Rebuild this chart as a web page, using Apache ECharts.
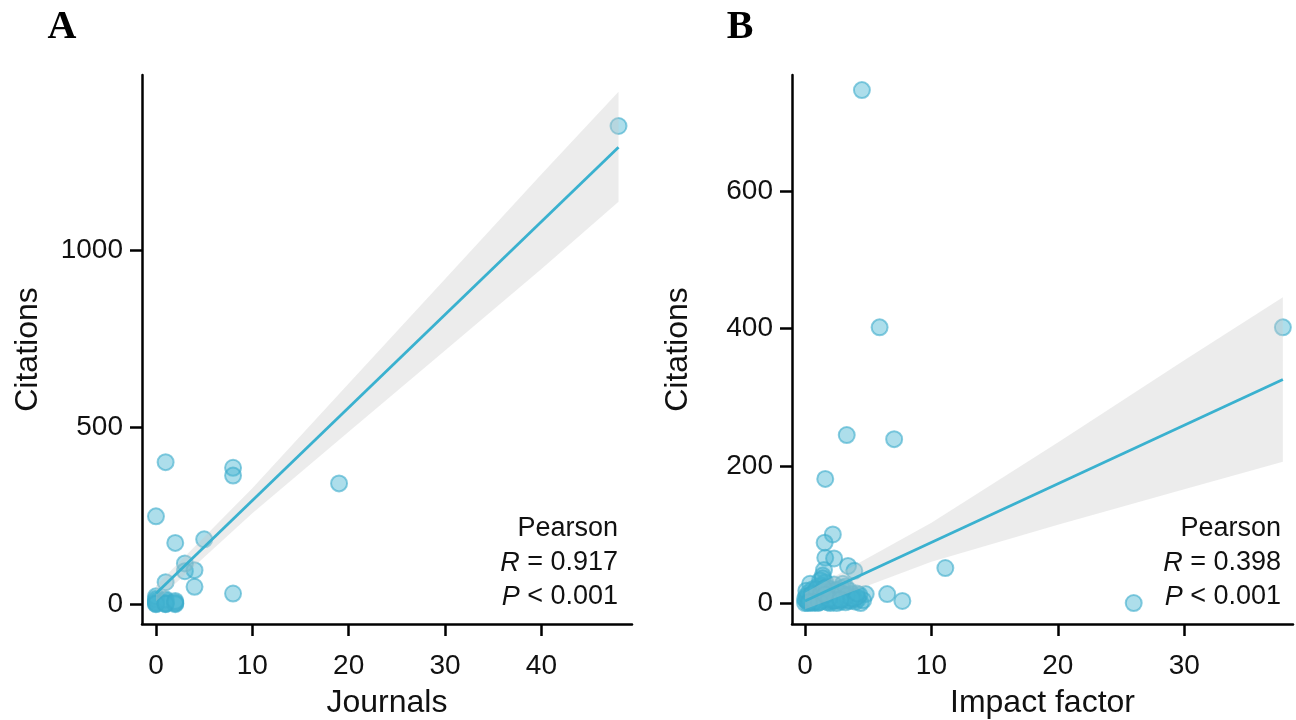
<!DOCTYPE html>
<html>
<head>
<meta charset="utf-8">
<script src="https://cdn.jsdelivr.net/npm/echarts@6/dist/echarts.min.js"></script>
<style>
  html, body { margin: 0; padding: 0; background: #fff; }
  #main { width: 1296px; height: 720px; }
</style>
</head>
<body>
<div id="main"></div>
<script>
// panel A: journals vs citations
var journalsX = [48, 19, 8, 8, 8, 1, 0, 2, 5, 3, 3, 4, 1, 4, 0, 0, 0, 0, 0, 0, 1, 1, 1, 1, 1, 2, 2, 2, 0, 1, 2];
var citationsA = [1350, 341, 385, 363, 30, 401, 248, 173, 183, 115, 93, 96, 62, 49, 0, 3, 6, 10, 15, 22, 0, 2, 5, 10, 14, 0, 2, 5, 1, 1, 9];

// panel B: impact factor vs citations
var impactX = [4.5, 5.9, 37.8, 3.3, 7.05, 1.6, 2.2, 1.55, 1.6, 2.3, 1.5, 3.4, 3.9, 1.4, 11.1, 6.5, 7.7, 4.8, 26,
  0.2, 0.3, 0.5, 0.5, 0.7, 0.8, 0.9, 1.0, 1.0, 1.1, 1.2, 1.3, 1.4, 1.5, 1.6, 1.7, 1.8, 1.9, 2.0, 2.1,
  2.2, 2.3, 2.4, 2.5, 2.6, 2.7, 2.8, 2.9, 3.0, 3.1, 3.2, 3.3, 3.5, 3.6, 3.8, 4.0, 4.2, 4.4, 4.6, 0.1,
  0.3, 0.6, 1.0, 0.4, 1.2, 1.4, 0.0, 0.1, 0.6, 2.0, 2.6, 3.0, 4.3,
  0.0, 0.2, 0.4, 0.6, 0.8, 1.1, 1.3, 1.5, 1.7, 1.9, 2.1, 2.3, 2.5, 2.7, 2.9, 3.1, 3.4, 3.7, 3.9, 4.1,
  0.1, 0.5, 0.9, 1.3, 1.7, 2.1, 2.5, 2.9, 3.3, 3.7, 4.1, 0.7, 1.5, 2.4, 3.2, 1.1, 1.9, 2.8, 0.3, 1.6];
var citationsB = [748, 402, 402, 245, 239, 181, 100, 88, 66, 65, 48, 54, 47, 40, 51, 13, 3, 13, 0,
  0, 2, 5, 1, 8, 3, 12, 0, 6, 18, 2, 25, 10, 4, 30, 15, 1, 8, 20, 3,
  12, 27, 6, 0, 16, 9, 2, 22, 5, 13, 1, 8, 18, 3, 10, 2, 6, 0, 4, 10,
  15, 20, 24, 28, 33, 36, 0, 4, 0, 0, 10, 28, 12,
  6, 9, 3, 14, 2, 10, 5, 16, 7, 3, 9, 4, 14, 5, 11, 7, 4, 13, 6, 9,
  18, 12, 20, 16, 23, 17, 19, 14, 11, 7, 14, 2, 21, 4, 24, 1, 6, 5, 1, 12];

// fitted lines and confidence bands
var fitAX = [0, 48];
var fitAY = [30, 1290];
var bandAX = [0, 10, 20, 30, 40, 48];
var bandALo = [8, 257, 487, 716, 946, 1136];
var bandAHi = [52, 327, 623, 918, 1214, 1447];

var fitBX = [0, 37.8];
var fitBY = [3, 326];
var bandBX = [0, 10, 20, 30, 37.8];
var bandBLo = [-9, 60, 114, 166, 206];
var bandBHi = [15, 117, 234, 354, 446];

var ticksAX = [0, 10, 20, 30, 40];
var ticksAY = [0, 500, 1000];
var ticksBX = [0, 10, 20, 30];
var ticksBY = [0, 200, 400, 600];

var FONT = 'Liberation Sans, Arial, sans-serif';
var pointColor = 'rgba(69,181,210,0.55)';
var pointBorder = 'rgba(60,172,204,0.75)';
var lineColor = '#3AB1CF';

function pairs(xs, ys) {
  return xs.map(function(x, i) { return [x, ys[i]]; });
}

function bandRender(xs, lo, hi) {
  return function(params, api) {
    if (params.dataIndex !== 0) return null;
    var pts = [];
    for (var i = 0; i < xs.length; i++) pts.push(api.coord([xs[i], hi[i]]));
    for (var j = xs.length - 1; j >= 0; j--) pts.push(api.coord([xs[j], lo[j]]));
    return {
      type: 'polygon',
      shape: { points: pts },
      style: { fill: 'rgba(200,200,200,0.35)' }
    };
  };
}

function plain(v) { return String(v); }

function xAxisCfg(idx, min, max, ticks, name) {
  return {
    type: 'value', gridIndex: idx, min: min, max: max,
    name: name, nameLocation: 'middle', nameGap: 63,
    nameTextStyle: { fontFamily: FONT, fontSize: 32, color: '#111' },
    axisLine: { onZero: false, lineStyle: { color: '#000', width: 2.5 } },
    axisTick: { show: true, length: 12, customValues: ticks, lineStyle: { color: '#000', width: 2.5 } },
    axisLabel: { customValues: ticks, formatter: plain, fontFamily: FONT, fontSize: 28, color: '#111', margin: 28 },
    splitLine: { show: false }
  };
}

function yAxisCfg(idx, min, max, ticks) {
  return {
    type: 'value', gridIndex: idx, min: min, max: max,
    name: 'Citations', nameLocation: 'middle', nameGap: 98,
    nameTextStyle: { fontFamily: FONT, fontSize: 32, color: '#111' },
    axisLine: { onZero: false, lineStyle: { color: '#000', width: 2.5 } },
    axisTick: { show: true, length: 12, customValues: ticks, lineStyle: { color: '#000', width: 2.5 } },
    axisLabel: { customValues: ticks, formatter: plain, fontFamily: FONT, fontSize: 28, color: '#111', margin: 19 },
    splitLine: { show: false }
  };
}

function statText(right, r) {
  var base = { fontFamily: FONT, fontSize: 27, fill: '#111', align: 'right', verticalAlign: 'middle' };
  var rich = { i: { fontStyle: 'italic', fontFamily: FONT, fontSize: 27, fill: '#111' } };
  return [
    { type: 'text', x: right, y: 529, style: Object.assign({ text: 'Pearson' }, base) },
    { type: 'text', x: right, y: 563, style: Object.assign({ text: '{i|R} = ' + r, rich: rich }, base) },
    { type: 'text', x: right, y: 597, style: Object.assign({ text: '{i|P} < 0.001', rich: rich }, base) }
  ];
}

var chart = echarts.init(document.getElementById('main'));
chart.setOption({
  backgroundColor: '#fff',
  animation: false,
  grid: [
    { left: 142, top: 75, width: 490, height: 549, outerBoundsMode: 'none' },
    { left: 792, top: 75, width: 501, height: 549, outerBoundsMode: 'none' }
  ],
  xAxis: [
    xAxisCfg(0, -1.45, 49.4, ticksAX, 'Journals'),
    xAxisCfg(1, -1.03, 38.6, ticksBX, 'Impact factor')
  ],
  yAxis: [
    yAxisCfg(0, -56, 1494, ticksAY),
    yAxisCfg(1, -30.6, 770, ticksBY)
  ],
  series: [
    {
      type: 'scatter', xAxisIndex: 0, yAxisIndex: 0, z: 2,
      symbolSize: 16, data: pairs(journalsX, citationsA),
      itemStyle: { color: pointColor, borderColor: pointBorder, borderWidth: 2 }
    },
    {
      type: 'custom', xAxisIndex: 0, yAxisIndex: 0, z: 3,
      renderItem: bandRender(bandAX, bandALo, bandAHi),
      data: bandAX.map(function(x, i) { return [x, bandALo[i], bandAHi[i]]; }),
      encode: { x: 0, y: [1, 2] }, silent: true
    },
    {
      type: 'line', xAxisIndex: 0, yAxisIndex: 0, z: 4,
      data: pairs(fitAX, fitAY), showSymbol: false,
      lineStyle: { color: lineColor, width: 2.8 }
    },
    {
      type: 'scatter', xAxisIndex: 1, yAxisIndex: 1, z: 2,
      symbolSize: 16, data: pairs(impactX, citationsB),
      itemStyle: { color: pointColor, borderColor: pointBorder, borderWidth: 2 }
    },
    {
      type: 'custom', xAxisIndex: 1, yAxisIndex: 1, z: 3,
      renderItem: bandRender(bandBX, bandBLo, bandBHi),
      data: bandBX.map(function(x, i) { return [x, bandBLo[i], bandBHi[i]]; }),
      encode: { x: 0, y: [1, 2] }, silent: true
    },
    {
      type: 'line', xAxisIndex: 1, yAxisIndex: 1, z: 4,
      data: pairs(fitBX, fitBY), showSymbol: false,
      lineStyle: { color: lineColor, width: 2.8 }
    }
  ],
  graphic: [
    { type: 'text', x: 62, y: 28, style: { text: 'A', fontFamily: 'Liberation Serif, Times New Roman, serif',
        fontWeight: 'bold', fontSize: 40, fill: '#000', align: 'center', verticalAlign: 'middle' } },
    { type: 'text', x: 740, y: 28, style: { text: 'B', fontFamily: 'Liberation Serif, Times New Roman, serif',
        fontWeight: 'bold', fontSize: 40, fill: '#000', align: 'center', verticalAlign: 'middle' } }
  ].concat(statText(618, '0.917')).concat(statText(1281, '0.398'))
});
</script>
</body>
</html>
